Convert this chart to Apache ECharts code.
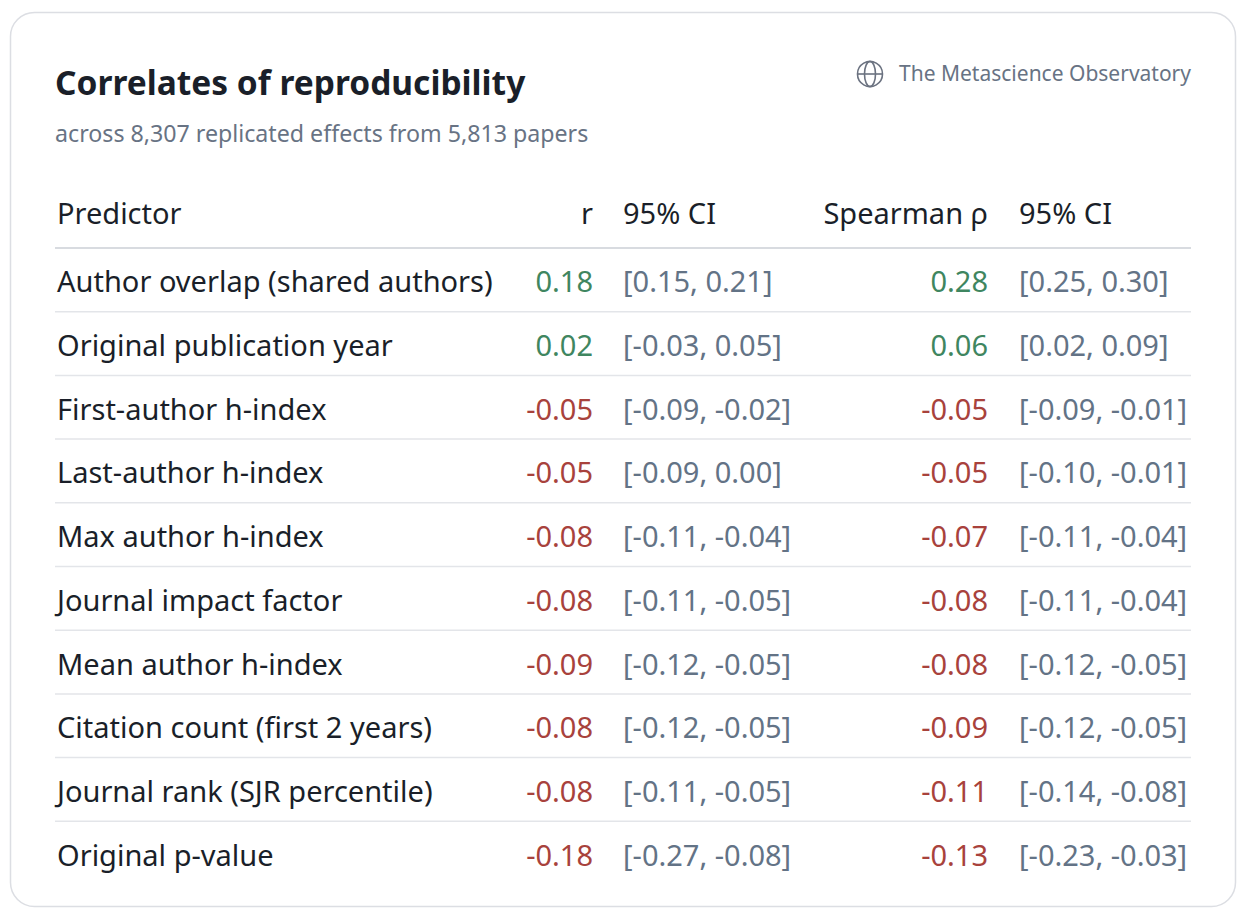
<!DOCTYPE html>
<html><head><meta charset="utf-8">
<script src="https://cdn.jsdelivr.net/npm/echarts@6/dist/echarts.min.js"></script>
<style>html,body{margin:0;padding:0;background:#fff;}#c{width:1246px;height:924px;}</style>
</head><body><div id="c"></div>
<script>
const predictors = ["Author overlap (shared authors)","Original publication year","First-author h-index","Last-author h-index","Max author h-index","Journal impact factor","Mean author h-index","Citation count (first 2 years)","Journal rank (SJR percentile)","Original p-value"];
const rValues = [0.18,0.02,-0.05,-0.05,-0.08,-0.08,-0.09,-0.08,-0.08,-0.18];
const rLow = [0.15,-0.03,-0.09,-0.09,-0.11,-0.11,-0.12,-0.12,-0.11,-0.27];
const rHigh = [0.21,0.05,-0.02,0.00,-0.04,-0.05,-0.05,-0.05,-0.05,-0.08];
const rhoValues = [0.28,0.06,-0.05,-0.05,-0.07,-0.08,-0.08,-0.09,-0.11,-0.13];
const rhoLow = [0.25,0.02,-0.09,-0.10,-0.11,-0.11,-0.12,-0.12,-0.14,-0.23];
const rhoHigh = [0.30,0.09,-0.01,-0.01,-0.04,-0.04,-0.05,-0.05,-0.08,-0.03];
const headers = ["Predictor","r","95% CI","Spearman ρ","95% CI"];

const FONT = "Noto Sans";
const FS = 29;
const fmt = v => v.toFixed(2);
const GREEN = "#3f8660", RED = "#a8423c", CI = "#637386", DARK = "#1a1f29", LINE = "#e3e5e9";
const colX = [57, 593, 623, 988, 1019];
const colAlign = ["left","right","left","right","left"];

const chart = echarts.init(document.getElementById('c'), null, {renderer:'svg'});
const rows = predictors.map((p,i)=>[i]);
chart.setOption({
  animation:false,
  backgroundColor:'#fff',
  title:[
    {text:"Correlates of reproducibility", left:55, top:65, padding:0, textStyle:{fontFamily:FONT,fontSize:33.5,fontWeight:'bold',color:DARK}},
    {text:"across 8,307 replicated effects from 5,813 papers", left:55, top:121, padding:0, textStyle:{fontFamily:FONT,fontSize:23.2,fontWeight:'normal',color:"#687384"}},
    {text:"The Metascience Observatory", right:55, top:62, padding:0, textStyle:{fontFamily:FONT,fontSize:21,fontWeight:'normal',color:"#687384"}}
  ],
  graphic:[
    {type:'rect', shape:{x:10.5,y:12.5,width:1225,height:894,r:24}, style:{fill:'#fff',stroke:'#dcdee3',lineWidth:1.5}, z:-10},
    {type:'group', x:870, y:74, children:[
      {type:'circle', shape:{cx:0,cy:0,r:12.5}, style:{fill:'none',stroke:'#6b7280',lineWidth:1.6}},
      {type:'ellipse', shape:{cx:0,cy:0,rx:5.5,ry:12.5}, style:{fill:'none',stroke:'#6b7280',lineWidth:1.6}},
      {type:'line', shape:{x1:-12.5,y1:0,x2:12.5,y2:0}, style:{stroke:'#6b7280',lineWidth:1.6}}
    ]}
  ],
  grid:{left:0,right:0,top:248,bottom:39},
  xAxis:{type:'value',min:0,max:1246,show:false},
  yAxis:{type:'category',inverse:true,data:predictors,show:false},
  series:[{
    type:'custom',
    data:rows,
    encode:{y:0},
    renderItem:function(params, api){
      const i = api.value(0);
      const c = api.coord([0,i]);
      const band = api.size([0,1])[1];
      const y = c[1] + 1;
      const texts = [
        [predictors[i], DARK],
        [fmt(rValues[i]), rValues[i] >= 0 ? GREEN : RED],
        ["[" + fmt(rLow[i]) + ", " + fmt(rHigh[i]) + "]", CI],
        [fmt(rhoValues[i]), rhoValues[i] >= 0 ? GREEN : RED],
        ["[" + fmt(rhoLow[i]) + ", " + fmt(rhoHigh[i]) + "]", CI]
      ];
      const children = texts.map((t,k)=>({
        type:'text',
        style:{text:t[0], x:api.coord([colX[k],i])[0], y:y, align:colAlign[k], verticalAlign:'middle', fill:t[1], font:"normal "+FS+"px '"+FONT+"'"}
      }));
      const x0 = api.coord([55,i])[0], x1 = api.coord([1191,i])[0];
      const yb = c[1] + band/2;
      if (i < predictors.length-1) {
        children.push({type:'line', shape:{x1:x0,y1:yb,x2:x1,y2:yb}, style:{stroke:LINE,lineWidth:1.5}});
      }
      if (i === 0) {
        const yt = c[1] - band/2;
        children.push({type:'line', shape:{x1:x0,y1:yt,x2:x1,y2:yt}, style:{stroke:'#d8dbe0',lineWidth:2}});
        headers.forEach((h,k)=>{
          children.push({type:'text', style:{text:h, x:api.coord([colX[k],i])[0], y:c[1]-band-4, align:colAlign[k], verticalAlign:'middle', fill:DARK, font:"normal "+FS+"px '"+FONT+"'"}});
        });
      }
      return {type:'group', children:children};
    }
  }]
});
</script></body></html>
